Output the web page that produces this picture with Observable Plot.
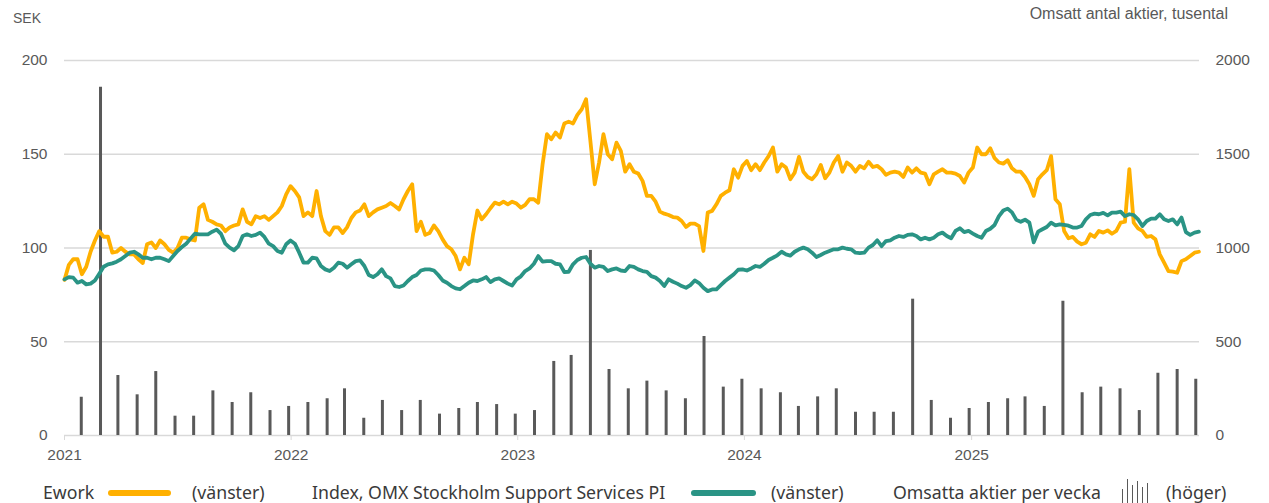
<!DOCTYPE html>
<html>
<head>
<meta charset="utf-8">
<script src="https://cdn.jsdelivr.net/npm/d3@7"></script>
<script src="https://cdn.jsdelivr.net/npm/@observablehq/plot@0.6"></script>
<style>
  html, body { margin: 0; padding: 0; background: #fff; }
  #wrap { position: relative; width: 1269px; height: 503px; overflow: hidden; font-family: "Liberation Sans", Arial, sans-serif; color: #595959; }
  .abs { position: absolute; white-space: nowrap; }
  .leg { position: absolute; top: 481px; font-family: "Noto Sans", sans-serif; font-size: 17.7px; color: #3a3a3a; white-space: nowrap; line-height: 22px; }
  .sw { position: absolute; top: 490px; height: 6px; border-radius: 3px; }
</style>
</head>
<body>
<div id="wrap">
  <div id="chart" class="abs" style="left:0;top:0"></div>
  <div class="abs" style="left:13px;top:10px;font-size:14px;">SEK</div>
  <div class="abs" style="right:41px;top:5px;font-size:16px;">Omsatt antal aktier, tusental</div>
  <div class="leg" style="left:43px">Ework</div>
  <div class="sw" style="left:108px;width:63px;background:#FFB000"></div>
  <div class="leg" style="left:192px">(vänster)</div>
  <div class="leg" style="left:312px">Index, OMX Stockholm Support Services PI</div>
  <div class="sw" style="left:691px;width:65px;background:#2A9485"></div>
  <div class="leg" style="left:771px">(vänster)</div>
  <div class="leg" style="left:893px">Omsatta aktier per vecka</div>
  <svg class="abs" style="left:1120px;top:477px" width="32" height="26">
    <g stroke="#595959" stroke-width="1">
      <line x1="2.5" y1="26" x2="2.5" y2="12"/>
      <line x1="7.5" y1="26" x2="7.5" y2="2"/>
      <line x1="12.5" y1="26" x2="12.5" y2="8"/>
      <line x1="17.5" y1="26" x2="17.5" y2="4"/>
      <line x1="22.5" y1="26" x2="22.5" y2="10"/>
      <line x1="27.5" y1="26" x2="27.5" y2="6"/>
    </g>
  </svg>
  <div class="leg" style="left:1166px">(höger)</div>
</div>
<script>
// Ework share price, SEK, weekly readings from 2021-01-01
const ework = [
  83, 91, 94, 94, 86, 90, 98, 104, 109, 106,
  106, 97.5, 98, 100, 98, 96.6, 96.6, 94, 92, 102,
  103, 100, 104, 102, 99, 97.5, 100, 105.5, 105.5, 104.6,
  104, 121.5, 123.3, 115, 114, 112.6, 112, 109, 111, 112,
  112.6, 120.6, 114, 112.6, 117, 116, 117, 115, 117, 119,
  122.4, 128.6, 133, 130.4, 127, 117, 119, 117, 130.4, 117,
  109, 107, 111, 111, 108, 111, 116, 119, 120, 123.3,
  117, 119, 120.6, 121.5, 122.4, 124, 122.4, 120.6, 126, 130.4,
  134, 109, 114, 107, 108, 112, 109, 104.6, 101,
  99.3, 95.7, 88.6, 94.8, 91.3, 107.3, 120, 115.3, 118, 121.2,
  124.2, 123.3, 124.7, 123.3, 124.7, 123.7, 121.5, 123, 126, 126,
  124.2, 144.7, 160.7, 158, 161.6, 158.9, 166.4, 167.4, 166.4, 171,
  174, 179.4, 157, 134, 145.6, 160.7, 150, 147.3, 156.2, 151.8,
  140.7, 144.7, 140.7, 139.7, 135.8, 127.8, 127.8, 124.7, 119.4, 118.3,
  117.6, 116.5, 116.2, 114.4, 111.2, 113, 113, 111.7, 98.4, 118.9,
  119.8, 123.3, 127.8, 129.5, 130.8, 142, 137.5, 143.8, 146.4, 141.5,
  144.7, 141.5, 145.6, 149, 153.6, 140.7, 144.7, 142.9, 136.7, 140.2,
  148.6, 140.7, 137.9, 136.7, 139.3, 144.3, 137.2, 140.2,
  145.6, 149, 140.7, 145.6, 143.8, 140.7, 143.8, 142.5, 146, 143.2,
  143.8, 142, 139, 140.2, 140.7, 140.2, 137.9, 142.9, 140.2, 142.5,
  140.2, 139.7, 134, 139.3, 140.7, 142, 140.2, 140.2, 139.7, 138.4,
  134.9, 140.2, 142.9, 153.6, 150, 150, 153.2, 147.9, 145.6, 145,
  146.8, 142.5, 140.7, 140.7, 137.9, 134, 127.8, 136.7, 139.3, 141.5,
  149, 126, 123.3, 109.1, 105.2, 105.9, 103.4, 102, 102.8, 107.3,
  105.9, 109.1, 108.2, 109.4, 107.6, 109.1, 113.5, 114, 142, 113.5,
  110.5, 109.1, 105.9, 106.4, 104.6, 96.6, 92.2, 87.7, 87.4, 86.8,
  93, 94, 95.7, 97.5, 98
];
// Index, OMX Stockholm Support Services PI (rebased), weekly readings
const omxIndex = [
  83.3, 84.5, 84.2, 81.5, 82.4, 80.6, 81, 82.7, 86.3, 90,
  91.3, 91.8, 92.7, 94, 95.7, 97.5, 98, 96.6, 94.8, 94.8,
  94, 94.8, 94.8, 94, 93, 95.7, 98.4, 100.5, 102.3, 105,
  107.6, 107.3, 107.3, 107.3, 108.7, 109.8, 107.6, 102.3, 100.2, 98.8,
  101, 106.4, 107.3, 106.4, 107, 108.2, 105.9, 102.3, 101, 98.4,
  97.5, 102, 104, 102.3, 97.5, 92.2, 92.2, 94.8, 94.5, 90.4,
  88.6, 87.7, 89.5, 92.2, 91.6, 89.5, 91.3, 93, 93.4, 90.4,
  85.6, 84.5, 86, 88.6, 85, 83.8, 79.7, 79.2, 80, 82.4,
  84.5, 85.6, 88, 88.6, 88.6, 88, 85.6, 82.7, 81.5,
  79.7, 78.5, 78, 79.7, 81.5, 82.7, 82.4, 83.3, 84.5, 81.8,
  83.3, 83.8, 82.4, 81, 80, 83.3, 84.9, 87.7, 89.1, 91.6,
  95.7, 92.7, 93, 93, 91.6, 91.3, 87.2, 87.3, 91.3, 93.6,
  94.8, 95.2, 91.6, 89.5, 90.4, 89.9, 87.7, 88.6, 89.1, 88,
  87.7, 90.4, 89.9, 88.6, 87.7, 87.3, 85, 84.2, 82.4, 79.7,
  83.3, 82, 81, 79.7, 78.8, 80.2, 82.7, 81.3, 78.8, 77,
  77.9, 77.9, 80.2, 82.4, 84.2, 86, 88.4, 88.6, 88, 89.1,
  90.4, 89.9, 91.6, 93.6, 94.8, 96.1, 98, 96.6, 95.9, 98,
  99.3, 100.2, 99.3, 97.5, 95.2, 96.3, 97.5, 98.4,
  99.3, 99.3, 100.2, 99.6, 99.3, 97.5, 97.3, 97.5, 100.2, 101.6,
  104.1, 101, 103.7, 104.1, 105.5, 106.4, 105.9, 107, 107.3, 106.4,
  104.6, 105.5, 104.6, 105.5, 107.3, 108.2, 106.4, 105.2, 109.1, 110.5,
  108.5, 109.1, 107.7, 106.4, 105.5, 109.1, 110.3, 112.3, 117, 120,
  121, 119, 115, 114, 115.1, 113.5, 103, 108.7, 110, 111.2,
  113.5, 112.1, 112.6, 112.3, 111.9, 110.9, 110.9, 111.7, 115.3, 117.6,
  118.3, 118, 118.7, 117.4, 118.9, 118.9, 119.4, 117, 118, 117.6,
  115.3, 111.7, 114.4, 115.7, 115.7, 118, 115.3, 114.4, 115.3, 112.6,
  116.2, 108.5, 107, 108.2, 108.7
];
// Traded shares (thousands), one reading per month, Jan 2021 – Dec 2025
const volume = [
  204, 1858, 320, 217, 341, 103, 103, 238, 176, 228, 133, 155,
  176, 196, 249, 92, 187, 133, 187, 114, 144, 176, 165, 114,
  133, 395, 427, 987, 352, 249, 290, 238, 196, 528, 258, 300,
  249, 228, 155, 206, 249, 124, 124, 124, 727, 187, 92, 144,
  176, 196, 206, 155, 716, 228, 258, 249, 133, 332, 352, 300
];
const leftTicks = [0, 50, 100, 150, 200];
const yearTicks = [2021, 2022, 2023, 2024, 2025];

const start = new Date(Date.UTC(2021, 0, 1));
const eworkData = ework.map((v, i) => ({date: d3.utcDay.offset(start, 7 * i), value: v}));
const indexData = omxIndex.map((v, i) => ({date: d3.utcDay.offset(start, 7 * i), value: v}));
const volData = volume.map((v, i) => ({date: d3.utcMonth.offset(new Date(Date.UTC(2021, 0, 28)), i), vol: v}));
const yearDates = yearTicks.map(y => new Date(Date.UTC(y, 0, 1)));

const chart = Plot.plot({
  width: 1269,
  height: 470,
  marginLeft: 64,
  marginRight: 70,
  marginTop: 60,
  marginBottom: 35,
  x: {type: "utc", domain: [new Date(Date.UTC(2021, 0, 1)), new Date(Date.UTC(2026, 0, 3))]},
  y: {domain: [0, 200]},
  style: {fontFamily: "'Liberation Sans', Arial, sans-serif", fontSize: "15.5px", color: "#595959", background: "white", overflow: "visible"},
  marks: [
    Plot.gridY(leftTicks.slice(1), {stroke: "#d9d9d9", strokeOpacity: 1, strokeWidth: 1.5}),
    Plot.ruleY([0], {stroke: "#d9d9d9", strokeWidth: 1.5}),
    Plot.axisX(yearDates, {tickFormat: d3.utcFormat("%Y"), tickSize: 5, tickPadding: 8, stroke: "#d9d9d9", fill: "#595959", label: null}),
    Plot.axisY(leftTicks, {anchor: "left", tickSize: 0, tickPadding: 17, fill: "#595959", label: null}),
    Plot.axisY(leftTicks, {anchor: "right", tickSize: 0, tickPadding: 16, tickFormat: d => String(d * 10), fill: "#595959", label: null}),
    Plot.ruleX(volData, {x: "date", y1: 0, y2: d => d.vol / 10, stroke: "#595959", strokeWidth: 3}),
    Plot.line(eworkData, {x: "date", y: "value", stroke: "#FFB000", strokeWidth: 3.8, strokeLinejoin: "round"}),
    Plot.line(indexData, {x: "date", y: "value", stroke: "#2A9485", strokeWidth: 3.8, strokeLinejoin: "round"})
  ]
});
document.getElementById("chart").appendChild(chart);
</script>
</body>
</html>
